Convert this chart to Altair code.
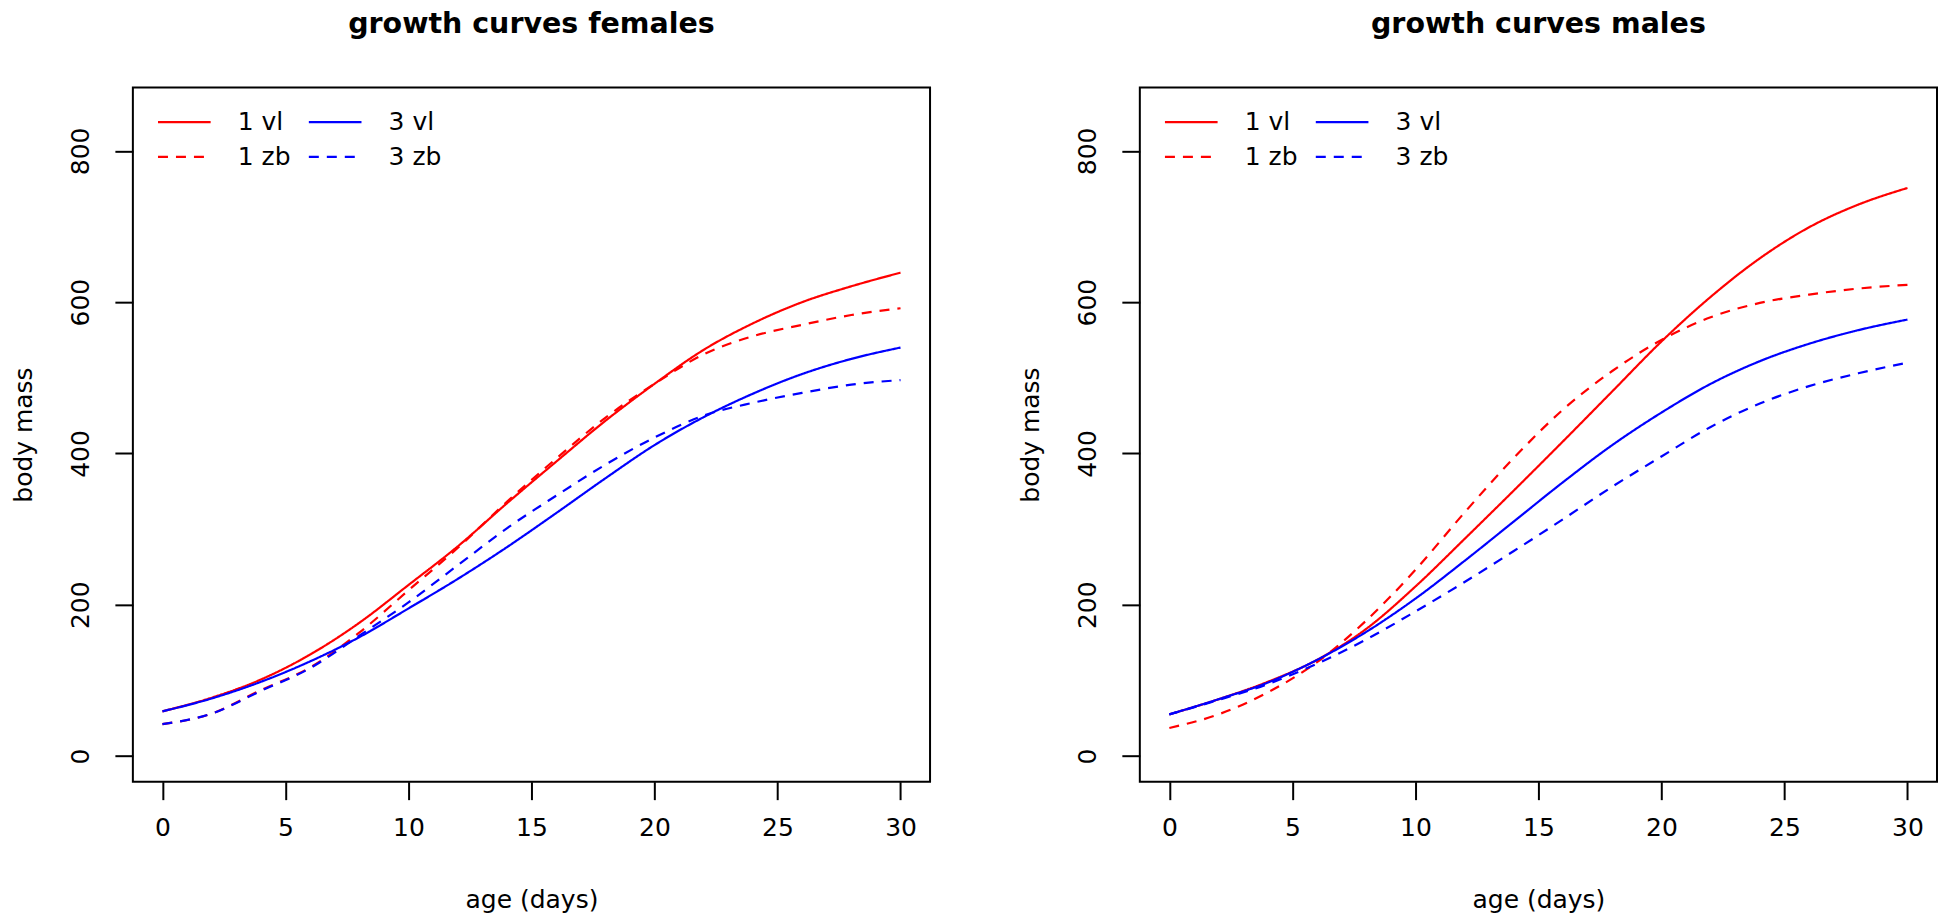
import altair as alt
import pandas as pd

days = [0, 2, 4, 6, 8, 10, 12, 14, 16, 18, 20, 22, 24, 26, 28, 30]

# females
f_1vl = [59, 77, 101, 134, 176, 226, 277, 334, 389, 443, 492, 537, 572, 600, 621, 639]
f_1zb = [42, 56, 87, 117, 163, 219, 275, 336, 393, 447, 492, 531, 555, 570, 583, 592]
f_3vl = [59, 76, 98, 125, 157, 195, 234, 276, 321, 367, 411, 448, 479, 505, 525, 540]
f_3zb = [42, 56, 86, 116, 159, 203, 252, 301, 344, 385, 421, 450, 467, 480, 491, 497]

# males
m_1vl = [55, 75, 98, 127, 168, 224, 287, 351, 416, 482, 548, 607, 658, 699, 729, 751]
m_1zb = [37, 55, 84, 124, 179, 246, 322, 394, 458, 509, 550, 580, 599, 610, 618, 623]
m_3vl = [55, 75, 97, 127, 164, 208, 258, 310, 362, 411, 454, 492, 522, 545, 563, 577]
m_3zb = [55, 74, 95, 122, 154, 191, 230, 271, 313, 356, 396, 435, 466, 489, 506, 520]

series_order = ["1 vl", "1 zb", "3 vl", "3 zb"]
series_colors = ["#FF0000", "#FF0000", "#0000FF", "#0000FF"]
series_dashes = [[1, 0], [10, 8], [1, 0], [10, 8]]

x_ticks = [0, 5, 10, 15, 20, 25, 30]
y_ticks = [0, 200, 400, 600, 800]


def long_df(vals):
    rows = []
    for name, v in zip(series_order, vals):
        for d, m in zip(days, v):
            rows.append({"day": d, "mass": m, "series": name})
    return pd.DataFrame(rows)


FONT = "DejaVu Sans"

legend = alt.Legend(
    title=None,
    orient="none",
    legendX=39,
    legendY=22,
    columns=2,
    values=series_order,
    symbolType="M-2.6,0L2.6,0",
    symbolSize=411,
    symbolStrokeWidth=2.2,
    labelFont=FONT,
    labelFontSize=25,
    labelColor="black",
    labelOffset=41,
    columnPadding=13,
    rowPadding=9,
    padding=0,
)


def panel(vals, title):
    df = long_df(vals)
    return (
        alt.Chart(df)
        .mark_line(strokeWidth=2.2, interpolate="monotone")
        .encode(
            x=alt.X(
                "day:Q",
                scale=alt.Scale(domain=[-1.2, 31.2], nice=False, zero=False),
                axis=alt.Axis(
                    values=x_ticks,
                    title="age (days)",
                    labelPadding=16,
                    titlePadding=47,
                    labelFlush=False,
                    labelOverlap=False,
                ),
            ),
            y=alt.Y(
                "mass:Q",
                scale=alt.Scale(domain=[-34, 884], nice=False, zero=False),
                axis=alt.Axis(
                    values=y_ticks,
                    title="body mass",
                    labelAngle=270,
                    labelAlign="center",
                    labelBaseline="bottom",
                    labelPadding=21,
                    titlePadding=32,
                    labelFlush=False,
                    labelOverlap=False,
                ),
            ),
            color=alt.Color(
                "series:N",
                scale=alt.Scale(domain=series_order, range=series_colors),
                legend=legend,
            ),
            strokeDash=alt.StrokeDash(
                "series:N",
                scale=alt.Scale(domain=series_order, range=series_dashes),
                legend=legend,
            ),
        )
        .properties(
            width=798,
            height=695,
            title=alt.TitleParams(title, anchor="middle", baseline="alphabetic", offset=26),
        )
    )


left = panel([f_1vl, f_1zb, f_3vl, f_3zb], "growth curves females")
right = panel([m_1vl, m_1zb, m_3vl, m_3zb], "growth curves males")

chart = (
    alt.hconcat(left, right, spacing=87)
    .resolve_legend(color="independent", strokeDash="independent")
    .properties(padding={"left": 3, "top": 0, "right": 0, "bottom": 0}, background="white")
    .configure_view(stroke="black", strokeWidth=2)
    .configure_axis(
        domain=False,
        grid=False,
        tickColor="black",
        tickWidth=2,
        tickSize=18,
        labelColor="black",
        titleColor="black",
        labelFont=FONT,
        titleFont=FONT,
        labelFontSize=25,
        titleFontSize=25,
        titleFontWeight="normal",
    )
    .configure_title(font=FONT, fontSize=28.5, fontWeight="bold", color="black")
)

chart.save("out.html", embed_options={"renderer": "svg", "actions": False})
